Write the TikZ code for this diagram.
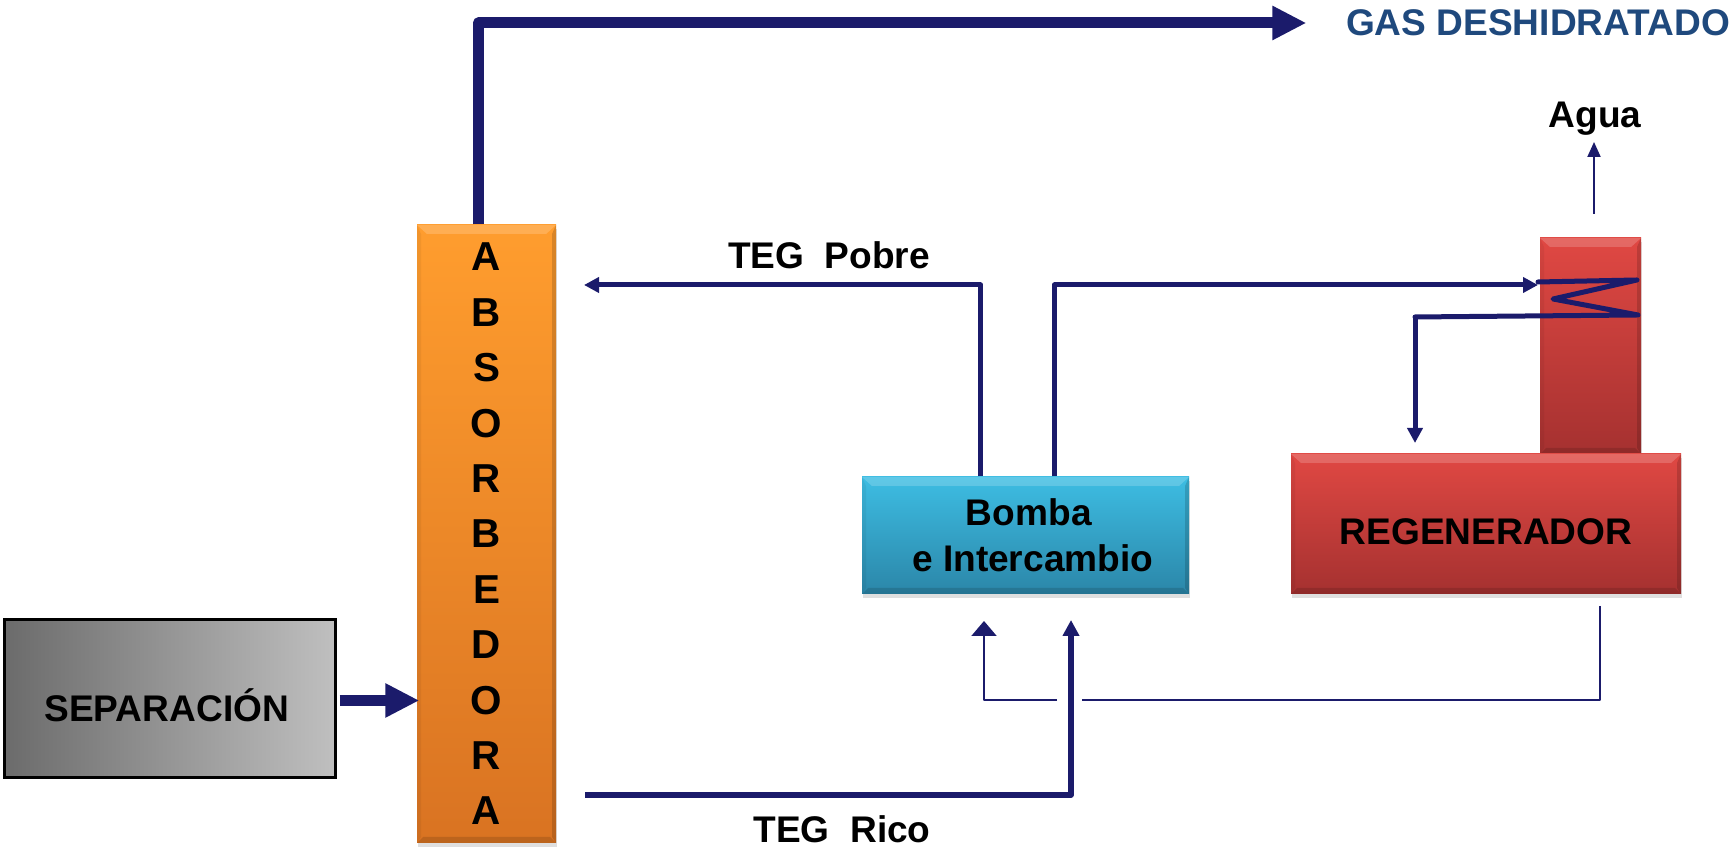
\documentclass[tikz,border=0pt]{standalone}
\usepackage{fontspec}
\setmainfont{Liberation Sans}
\usepackage{xcolor}
\usetikzlibrary{
    arrows.meta,
    calc,
    shadows
}
\definecolor{flowblue}{HTML}{1B1B6B}
\definecolor{gasblue}{HTML}{1F497D}
\definecolor{orangetop}{HTML}{FF9D2E}
\definecolor{orangelow}{HTML}{D97322}
\definecolor{bluetop}{HTML}{3DBDE3}
\definecolor{bluelow}{HTML}{2B86A8}
\definecolor{redtop}{HTML}{E04843}
\definecolor{redlow}{HTML}{A53130}
\begin{document}
\begin{tikzpicture}[
    bevel/.style={drop shadow={shadow xshift=0.01cm, shadow yshift=-0.04cm, opacity=0.25}, path picture={
        \coordinate (nw) at (path picture bounding box.north west);
        \coordinate (ne) at (path picture bounding box.north east);
        \coordinate (sw) at (path picture bounding box.south west);
        \coordinate (se) at (path picture bounding box.south east);
        \fill[white, opacity=0.18] (nw) -- (ne) -- ($(ne)+(-0.1,-0.09)$) -- ($(nw)+(0.1,-0.09)$) -- cycle;
        \fill[black, opacity=0.13] (sw) -- (se) -- ($(se)+(-0.06,0.06)$) -- ($(sw)+(0.06,0.06)$) -- cycle;
        \fill[black, opacity=0.15] (ne) -- (se) -- ($(se)+(-0.04,0.06)$) -- ($(ne)+(-0.04,-0.09)$) -- cycle;
        \fill[black, opacity=0.05] (nw) -- (sw) -- ($(sw)+(0.04,0.06)$) -- ($(nw)+(0.04,-0.09)$) -- cycle;
    }},
    plain/.style={font=\fontsize{10.55}{13}\selectfont\bfseries, inner sep=0pt},
    thickflow/.style={-{Triangle[length=0.34cm, width=0.32cm]}, line width=0.11cm, flowblue, line join=round},
    midflow/.style={-{Triangle[length=0.15cm, width=0.15cm]}, line width=0.05cm, flowblue, line join=round},
    thinflow/.style={line width=0.02cm, flowblue, line join=round},
    thinhead/.style={-{Triangle[length=0.15cm, width=0.25cm]}, thinflow},
]
    \useasboundingbox (0, 0) rectangle (17.32, 8.52);

    % Columns and boxes
    \node[bevel, plain, top color=orangetop, bottom color=orangelow, minimum width=1.39cm, minimum height=6.18cm, align=center, font=\fontsize{11.5}{15.76}\selectfont\bfseries] (absorbedora) at (4.865, 3.18) {A\\B\\S\\O\\R\\B\\E\\D\\O\\R\\A};
    \node[plain, draw=black, line width=0.03cm, left color=black!58, right color=black!25, minimum width=3.31cm, minimum height=1.58cm, text height=0.456cm] (separacion) at (1.695, 1.535) {\hspace*{-0.055cm}SEPARACIÓN};
    \node[bevel, plain, top color=bluetop, bottom color=bluelow, minimum width=3.27cm, minimum height=1.17cm, align=center] (bomba) at (10.255, 3.165) {\hspace*{0.066cm}Bomba\\\hspace*{0.144cm}e Intercambio};
    \node[bevel, top color=redtop, bottom color=redlow, minimum width=1.01cm, minimum height=2.16cm, inner sep=0pt] (columna) at (15.905, 5.06) {};
    \node[bevel, plain, top color=redtop, bottom color=redlow, minimum width=3.9cm, minimum height=1.4cm, text height=0.42cm] (regenerador) at (14.86, 3.28) {REGENERADOR};

    % Labels
    \node[plain, text=gasblue] (gas) at (15.38, 8.29) {GAS DESHIDRATADO};
    \node[plain] (agua) at (15.95, 7.335) {Agua};
    \node[plain] (pobre) at (8.29, 5.97) {TEG\ \ Pobre};
    \node[plain] (rico) at (8.42, 0.23) {TEG\ \ Rico};

    % Free ends
    \coordinate (aguafrom) at (15.94, 6.38);
    \coordinate (aguato) at (15.94, 7.10);
    \coordinate (pobreto) at (5.84, 5.67);
    \coordinate (ricofrom) at (5.85, 0.57);
    \coordinate (ricoto) at (10.71, 2.32);
    \coordinate (retorno) at (16.00, 2.46);
    \coordinate (salto) at (10.82, 1.52);
    \coordinate (saltob) at (10.57, 1.52);
    \coordinate (retornoto) at (9.84, 2.31);
    \coordinate (z0) at (15.38, 5.67);
    \coordinate (z1) at (15.38, 5.70);
    \coordinate (z2) at (16.37, 5.72);
    \coordinate (z3) at (15.53, 5.53);
    \coordinate (z4) at (16.38, 5.37);
    \coordinate (z5) at (14.15, 5.35);
    \coordinate (z6) at (14.15, 4.09);

    % Flows
    \draw[thickflow] ([xshift=-0.08cm]absorbedora.north) |- ([xshift=-0.39cm]gas.west);
    \draw[thickflow, shorten <=0.03cm] ([yshift=-0.02cm]separacion.east) -- ([xshift=0.03cm, yshift=-0.02cm]absorbedora.west |- separacion.east);
    \draw[midflow] ([xshift=-0.45cm]bomba.north) |- (pobreto);
    \draw[midflow] ([xshift=0.29cm]bomba.north) |- (z0);
    \draw[midflow, -, line cap=round] (z1) -- (z2) -- (z3) -- (z4) -- (z5);
    \draw[midflow] (z5) -- (z6);
    \draw[midflow, line width=0.055cm, -{Triangle[length=0.16cm, width=0.16cm]}] (ricofrom) -| (ricoto);
    \draw[thinflow] (retorno) |- (salto);
    \draw[thinhead] (saltob) -| (retornoto);
    \draw[thinflow, -{Triangle[length=0.15cm, width=0.13cm]}] (aguafrom) -- (aguato);
\end{tikzpicture}
\end{document}
